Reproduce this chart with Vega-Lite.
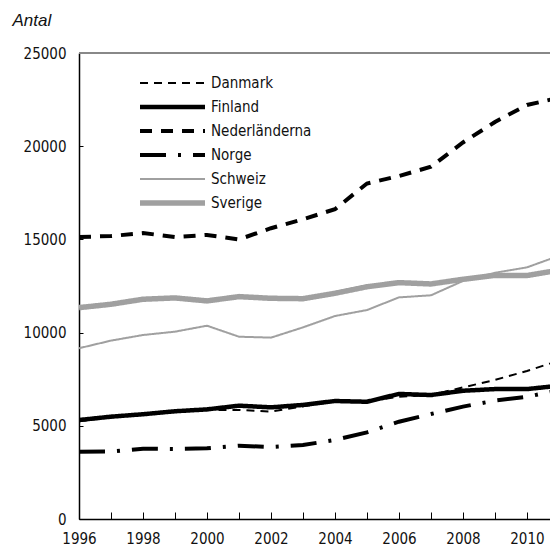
{
  "$schema": "https://vega.github.io/schema/vega-lite/v6.json",
  "autosize": {"type": "none"},
  "width": 471,
  "height": 466,
  "padding": {"left": 79, "top": 53, "right": 0, "bottom": 31},
  "background": "white",
  "config": {
    "view": {"stroke": null},
    "font": "DejaVu Sans Condensed, Roboto, sans-serif",
    "axis": {"labelFont": "DejaVu Sans Condensed, Roboto, sans-serif", "labelFontSize": 15, "labelColor": "#111", "grid": false, "domainColor": "#000", "tickColor": "#000", "domainWidth": 1.5, "tickWidth": 1}
  },
  "data": {"values": [
    {"land": "Danmark", "year": 1996, "value": 5250},
    {"land": "Danmark", "year": 1997, "value": 5450},
    {"land": "Danmark", "year": 1998, "value": 5650},
    {"land": "Danmark", "year": 1999, "value": 5750},
    {"land": "Danmark", "year": 2000, "value": 5850},
    {"land": "Danmark", "year": 2001, "value": 5850},
    {"land": "Danmark", "year": 2002, "value": 5760},
    {"land": "Danmark", "year": 2003, "value": 6050},
    {"land": "Danmark", "year": 2004, "value": 6300},
    {"land": "Danmark", "year": 2005, "value": 6300},
    {"land": "Danmark", "year": 2006, "value": 6560},
    {"land": "Danmark", "year": 2007, "value": 6650},
    {"land": "Danmark", "year": 2008, "value": 7060},
    {"land": "Danmark", "year": 2009, "value": 7460},
    {"land": "Danmark", "year": 2010, "value": 7940},
    {"land": "Danmark", "year": 2011, "value": 8500},
    {"land": "Finland", "year": 1996, "value": 5310},
    {"land": "Finland", "year": 1997, "value": 5490},
    {"land": "Finland", "year": 1998, "value": 5620},
    {"land": "Finland", "year": 1999, "value": 5780},
    {"land": "Finland", "year": 2000, "value": 5880},
    {"land": "Finland", "year": 2001, "value": 6080},
    {"land": "Finland", "year": 2002, "value": 5990},
    {"land": "Finland", "year": 2003, "value": 6120},
    {"land": "Finland", "year": 2004, "value": 6330},
    {"land": "Finland", "year": 2005, "value": 6290},
    {"land": "Finland", "year": 2006, "value": 6710},
    {"land": "Finland", "year": 2007, "value": 6650},
    {"land": "Finland", "year": 2008, "value": 6880},
    {"land": "Finland", "year": 2009, "value": 6970},
    {"land": "Finland", "year": 2010, "value": 6970},
    {"land": "Finland", "year": 2011, "value": 7150},
    {"land": "Nederländerna", "year": 1996, "value": 15130},
    {"land": "Nederländerna", "year": 1997, "value": 15180},
    {"land": "Nederländerna", "year": 1998, "value": 15340},
    {"land": "Nederländerna", "year": 1999, "value": 15130},
    {"land": "Nederländerna", "year": 2000, "value": 15240},
    {"land": "Nederländerna", "year": 2001, "value": 15000},
    {"land": "Nederländerna", "year": 2002, "value": 15600},
    {"land": "Nederländerna", "year": 2003, "value": 16080},
    {"land": "Nederländerna", "year": 2004, "value": 16620},
    {"land": "Nederländerna", "year": 2005, "value": 18000},
    {"land": "Nederländerna", "year": 2006, "value": 18400},
    {"land": "Nederländerna", "year": 2007, "value": 18900},
    {"land": "Nederländerna", "year": 2008, "value": 20200},
    {"land": "Nederländerna", "year": 2009, "value": 21300},
    {"land": "Nederländerna", "year": 2010, "value": 22210},
    {"land": "Nederländerna", "year": 2011, "value": 22600},
    {"land": "Norge", "year": 1996, "value": 3610},
    {"land": "Norge", "year": 1997, "value": 3620},
    {"land": "Norge", "year": 1998, "value": 3770},
    {"land": "Norge", "year": 1999, "value": 3760},
    {"land": "Norge", "year": 2000, "value": 3790},
    {"land": "Norge", "year": 2001, "value": 3930},
    {"land": "Norge", "year": 2002, "value": 3860},
    {"land": "Norge", "year": 2003, "value": 3970},
    {"land": "Norge", "year": 2004, "value": 4240},
    {"land": "Norge", "year": 2005, "value": 4650},
    {"land": "Norge", "year": 2006, "value": 5220},
    {"land": "Norge", "year": 2007, "value": 5630},
    {"land": "Norge", "year": 2008, "value": 6030},
    {"land": "Norge", "year": 2009, "value": 6350},
    {"land": "Norge", "year": 2010, "value": 6560},
    {"land": "Norge", "year": 2011, "value": 6900},
    {"land": "Schweiz", "year": 1996, "value": 9160},
    {"land": "Schweiz", "year": 1997, "value": 9570},
    {"land": "Schweiz", "year": 1998, "value": 9870},
    {"land": "Schweiz", "year": 1999, "value": 10050},
    {"land": "Schweiz", "year": 2000, "value": 10370},
    {"land": "Schweiz", "year": 2001, "value": 9780},
    {"land": "Schweiz", "year": 2002, "value": 9730},
    {"land": "Schweiz", "year": 2003, "value": 10280},
    {"land": "Schweiz", "year": 2004, "value": 10890},
    {"land": "Schweiz", "year": 2005, "value": 11210},
    {"land": "Schweiz", "year": 2006, "value": 11890},
    {"land": "Schweiz", "year": 2007, "value": 12000},
    {"land": "Schweiz", "year": 2008, "value": 12770},
    {"land": "Schweiz", "year": 2009, "value": 13210},
    {"land": "Schweiz", "year": 2010, "value": 13500},
    {"land": "Schweiz", "year": 2011, "value": 14120},
    {"land": "Sverige", "year": 1996, "value": 11340},
    {"land": "Sverige", "year": 1997, "value": 11520},
    {"land": "Sverige", "year": 1998, "value": 11790},
    {"land": "Sverige", "year": 1999, "value": 11860},
    {"land": "Sverige", "year": 2000, "value": 11700},
    {"land": "Sverige", "year": 2001, "value": 11930},
    {"land": "Sverige", "year": 2002, "value": 11840},
    {"land": "Sverige", "year": 2003, "value": 11820},
    {"land": "Sverige", "year": 2004, "value": 12110},
    {"land": "Sverige", "year": 2005, "value": 12460},
    {"land": "Sverige", "year": 2006, "value": 12680},
    {"land": "Sverige", "year": 2007, "value": 12610},
    {"land": "Sverige", "year": 2008, "value": 12860},
    {"land": "Sverige", "year": 2009, "value": 13070},
    {"land": "Sverige", "year": 2010, "value": 13060},
    {"land": "Sverige", "year": 2011, "value": 13350}
  ]},
  "layer": [
    {
      "mark": {"type": "rule", "color": "#888", "strokeWidth": 1.5},
      "encoding": {"y": {"datum": 25000, "type": "quantitative", "scale": {"domain": [0, 25000]}}}
    },
    {
      "mark": {"type": "line", "clip": true},
      "encoding": {
        "x": {"field": "year", "type": "quantitative", "scale": {"domain": [1996, 2010.72], "nice": false, "zero": false},
          "axis": {"title": null, "values": [1996,1997,1998,1999,2000,2001,2002,2003,2004,2005,2006,2007,2008,2009,2010], "format": "d", "labelExpr": "datum.value % 2 == 0 ? datum.label : ''", "tickSize": -7, "labelPadding": 19, "labelFlush": false, "labelOverlap": false}},
        "y": {"field": "value", "type": "quantitative", "scale": {"domain": [0, 25000], "nice": false},
          "axis": {"title": "Antal", "titleFont": "Liberation Sans", "titleFontStyle": "italic", "titleFontWeight": "normal", "titleFontSize": 17, "titleColor": "#111", "titleAngle": 0, "titleAlign": "left", "titleBaseline": "alphabetic", "titleX": -67, "titleY": -28, "values": [0, 5000, 10000, 15000, 20000, 25000], "format": "d", "tickSize": -4, "labelPadding": 17, "labelFlush": false}},
        "color": {"field": "land", "type": "nominal",
          "scale": {"domain": ["Danmark", "Finland", "Nederländerna", "Norge", "Schweiz", "Sverige"], "range": ["#000000", "#000000", "#000000", "#000000", "#a0a0a0", "#a0a0a0"]},
          "legend": {"title": null, "orient": "none", "legendX": 58, "legendY": 20, "symbolType": "stroke", "symbolSize": 4225, "labelFontSize": 15, "labelFont": "DejaVu Sans Condensed, Roboto, sans-serif", "labelColor": "#111", "labelOffset": 3, "clipHeight": 20, "rowPadding": 4, "padding": 0}},
        "strokeDash": {"field": "land", "type": "nominal",
          "scale": {"domain": ["Danmark", "Finland", "Nederländerna", "Norge", "Schweiz", "Sverige"], "range": [[8, 6], [1, 0], [12, 9], [26, 12, 3, 12], [1, 0], [1, 0]]},
          "legend": {"title": null}},
        "strokeWidth": {"field": "land", "type": "nominal",
          "scale": {"type": "ordinal", "domain": ["Danmark", "Finland", "Nederländerna", "Norge", "Schweiz", "Sverige"], "range": [2, 4.5, 4, 4, 2, 5.5]},
          "legend": {"title": null}}
      }
    }
  ]
}
